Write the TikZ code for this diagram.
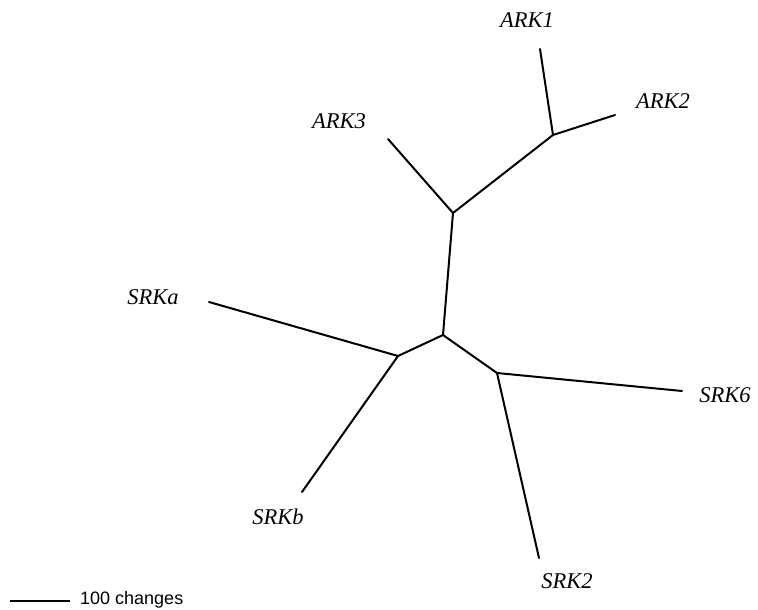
\documentclass[tikz,border=0pt]{standalone}
\usepackage{fontspec}
\setmainfont{Liberation Serif}
\newfontfamily\barfont{Liberation Sans}
\begin{document}
\begin{tikzpicture}[x=1pt,y=-1pt,
  branch/.style={line width=2pt, line cap=round, line join=round},
  taxon/.style={font=\fontsize{22.5}{26}\selectfont\itshape, inner sep=0pt, anchor=center},
  barlabel/.style={font=\barfont\fontsize{18}{20}\selectfont, inner sep=0pt, anchor=west}]
  \useasboundingbox (0,0) rectangle (758,610);
  % branch tips
  \coordinate (tA1) at (540,49);
  \coordinate (tA2) at (615,115);
  \coordinate (tA3) at (388,139);
  \coordinate (tSa) at (209,302);
  \coordinate (tSb) at (302,492);
  \coordinate (tS6) at (682,391);
  \coordinate (tS2) at (539,558);
  % internal nodes
  \coordinate (j12) at (553,135);
  \coordinate (jA)  at (453,213);
  \coordinate (jC)  at (443,335);
  \coordinate (jL)  at (398,356);
  \coordinate (jR)  at (497,373);
  % tree
  \draw[branch] (tA1) -- (j12) -- (tA2);
  \draw[branch] (j12) -- (jA) -- (tA3);
  \draw[branch] (jA) -- (jC);
  \draw[branch] (jC) -- (jL);
  \draw[branch] (jC) -- (jR);
  \draw[branch] (tSa) -- (jL) -- (tSb);
  \draw[branch] (tS6) -- (jR) -- (tS2);
  % taxon names
  \node[taxon] (ARK1) at (527,20) {ARK1};
  \node[taxon] (ARK2) at (663,101) {ARK2};
  \node[taxon] (ARK3) at (339,121) {ARK3};
  \node[taxon] (SRKa) at (153,297) {SRKa};
  \node[taxon] (SRKb) at (278,517) {SRKb};
  \node[taxon] (SRK6) at (725,395) {SRK6};
  \node[taxon] (SRK2) at (567,581) {SRK2};
  % scale bar
  \coordinate (s0) at (10,601);
  \coordinate (s1) at (70,601);
  \draw[line width=2pt] (s0) -- (s1);
  \node[barlabel] (scale) at (80,600) {100 changes};
\end{tikzpicture}
\end{document}
